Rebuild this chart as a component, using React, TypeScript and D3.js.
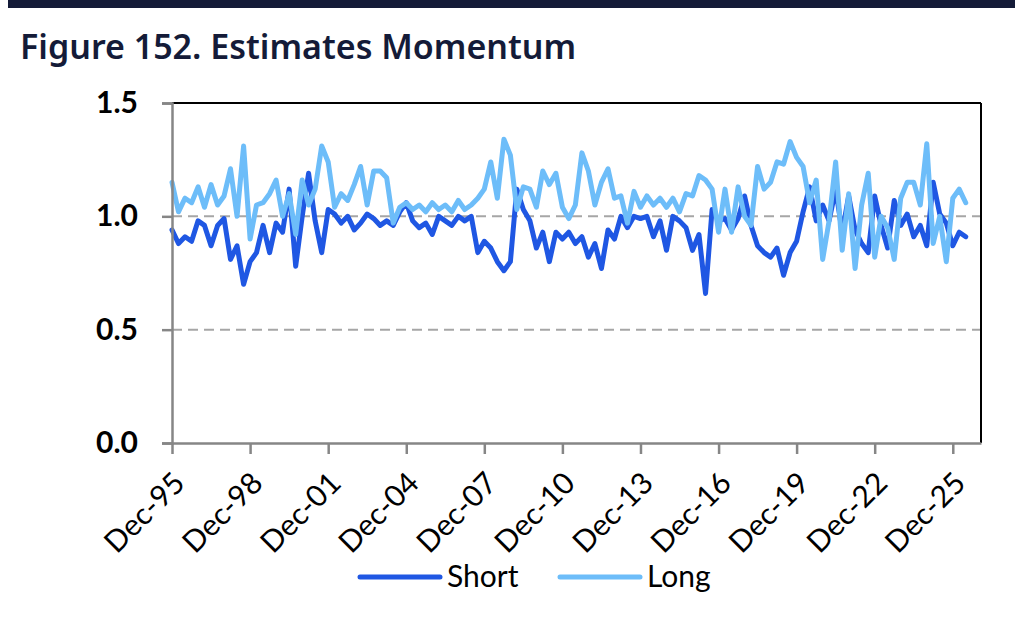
import * as d3 from 'd3';
import React, { useEffect, useRef } from 'react';

// Quarterly readings, first point Dec-95
const shortValues = [
  0.94, 0.88, 0.91, 0.89, 0.98, 0.96, 0.87, 0.96, 0.99, 0.81,
  0.87, 0.7, 0.8, 0.84, 0.96, 0.84, 0.97, 0.93, 1.12, 0.78,
  1.0, 1.19, 0.98, 0.84, 1.03, 1.01, 0.97, 1.0, 0.94, 0.97,
  1.01, 0.99, 0.96, 0.98, 0.96, 1.02, 1.06, 0.98, 0.95, 0.97,
  0.92, 1.0, 0.98, 0.96, 1.0, 0.98, 1.0, 0.84, 0.89, 0.86,
  0.8, 0.76, 0.8, 1.12, 1.03, 0.98, 0.86, 0.93, 0.8, 0.93,
  0.9, 0.93, 0.88, 0.91, 0.82, 0.88, 0.77, 0.94, 0.9, 1.0,
  0.95, 1.0, 0.99, 1.0, 0.91, 0.98, 0.85, 1.0, 0.98, 0.95,
  0.85, 0.92, 0.66, 1.03, 0.98, 0.99, 0.94, 0.99, 1.09, 0.96,
  0.87, 0.84, 0.82, 0.86, 0.74, 0.84, 0.89, 1.02, 1.13, 0.98,
  1.05, 0.98, 1.12, 0.93, 1.09, 0.94, 0.88, 0.84, 1.09, 0.96,
  0.86, 1.07, 0.96, 1.01, 0.91, 0.96, 0.87, 1.15, 1.01, 0.97,
  0.87, 0.93, 0.91
];

const longValues = [
  1.15, 1.02, 1.08, 1.06, 1.13, 1.04, 1.14, 1.05, 1.09, 1.21,
  1.0, 1.31, 0.9, 1.05, 1.06, 1.1, 1.16, 1.0, 1.1, 0.92,
  1.16, 1.05, 1.12, 1.31, 1.24, 1.04, 1.1, 1.07, 1.14, 1.22,
  1.05, 1.2, 1.2, 1.17, 0.97, 1.04, 1.06, 1.03, 1.05, 1.02,
  1.06, 1.03, 1.05, 1.02, 1.07, 1.03, 1.05, 1.08, 1.12, 1.24,
  1.08, 1.34, 1.27, 1.03, 1.13, 1.12, 1.04, 1.2, 1.14, 1.19,
  1.04, 0.99, 1.05, 1.28, 1.2, 1.05, 1.15, 1.21, 1.08, 1.09,
  0.97, 1.11, 1.04, 1.09, 1.05, 1.08, 1.04, 1.08, 1.02, 1.1,
  1.09, 1.18, 1.16, 1.12, 0.93, 1.12, 0.93, 1.13, 1.0, 0.96,
  1.22, 1.12, 1.15, 1.24, 1.23, 1.33, 1.26, 1.22, 1.06, 1.16,
  0.81, 0.98, 1.24, 0.85, 1.1, 0.77, 1.05, 1.19, 0.82, 1.0,
  0.95, 0.81, 1.08, 1.15, 1.15, 1.05, 1.32, 0.88, 1.0, 0.8,
  1.08, 1.12, 1.06
];

const tickYears = [1995, 1998, 2001, 2004, 2007, 2010, 2013, 2016, 2019, 2022, 2025];
const yTicks = [0, 0.5, 1.0, 1.5];
const gridValues = [0.5, 1.0];
const seriesNames = ['Short', 'Long'];
const seriesColors = ['#1f57e3', '#6dbdf9'];

const width = 1015;
const height = 628;
const margin = { top: 103, right: 34, bottom: 185, left: 172 };

export default function App() {
  const svgRef = useRef<SVGSVGElement>(null);

  useEffect(() => {
    const svg = d3.select(svgRef.current);
    svg.selectAll('*').remove();

    const startDate = new Date(1995, 11, 1);
    const dates = shortValues.map((_, i) => d3.timeMonth.offset(startDate, i * 3));

    const x = d3
      .scaleTime()
      .domain([startDate, new Date(2027, 0, 1)])
      .range([margin.left, width - margin.right]);
    const y = d3
      .scaleLinear()
      .domain([0, 1.5])
      .range([height - margin.bottom, margin.top]);

    // header bar + title
    svg.append('rect').attr('x', 8).attr('y', 0).attr('width', width - 8).attr('height', 8).attr('fill', '#141b38');
    svg
      .append('text')
      .attr('x', 20)
      .attr('y', 59)
      .attr('fill', '#141b38')
      .style('font-family', '"Noto Sans", sans-serif')
      .style('font-weight', 600)
      .style('font-size', '34px')
      .text('Figure 152. Estimates Momentum');

    // dashed gridlines
    svg
      .append('g')
      .selectAll('line')
      .data(gridValues)
      .join('line')
      .attr('x1', margin.left)
      .attr('x2', width - margin.right)
      .attr('y1', (d) => y(d))
      .attr('y2', (d) => y(d))
      .attr('stroke', '#a6a6a6')
      .attr('stroke-width', 2)
      .attr('stroke-dasharray', '10 6');

    // series lines
    const line = d3
      .line<number>()
      .x((_d, i) => x(dates[i]))
      .y((d) => y(d))
      .curve(d3.curveLinear);

    [shortValues, longValues].forEach((vals, k) => {
      svg
        .append('path')
        .datum(vals)
        .attr('d', line)
        .attr('fill', 'none')
        .attr('stroke', seriesColors[k])
        .attr('stroke-width', 5)
        .attr('stroke-linejoin', 'round')
        .attr('stroke-linecap', 'round');
    });

    // frame: black top/right, gray left/bottom axes
    const x0 = margin.left;
    const x1 = width - margin.right;
    const y0 = height - margin.bottom;
    const y1 = margin.top;
    svg.append('line').attr('x1', x0).attr('x2', x1).attr('y1', y1).attr('y2', y1).attr('stroke', '#000').attr('stroke-width', 2);
    svg.append('line').attr('x1', x1).attr('x2', x1).attr('y1', y1).attr('y2', y0).attr('stroke', '#000').attr('stroke-width', 2);

    // y axis
    const yAxis = d3
      .axisLeft(y)
      .tickValues(yTicks)
      .tickSize(10)
      .tickPadding(24)
      .tickFormat((d) => d3.format('.1f')(d as number));
    const gy = svg.append('g').attr('transform', `translate(${x0},0)`).call(yAxis);
    gy.select('.domain').attr('stroke', '#868686').attr('stroke-width', 2.5);
    gy.selectAll('.tick line').attr('stroke', '#868686').attr('stroke-width', 2.5);
    gy.selectAll('text')
      .attr('fill', '#000')
      .style('font-family', 'Lato, sans-serif')
      .style('font-weight', 700)
      .style('font-size', '30px');

    // x axis
    const xAxis = d3
      .axisBottom(x)
      .tickValues(tickYears.map((yr) => new Date(yr, 11, 1)))
      .tickSize(11)
      .tickSizeOuter(0)
      .tickFormat((d) => d3.timeFormat('Dec-%y')(d as Date));
    const gx = svg.append('g').attr('transform', `translate(0,${y0})`).call(xAxis);
    gx.select('.domain').attr('stroke', '#868686').attr('stroke-width', 2.5);
    gx.selectAll('.tick line').attr('stroke', '#868686').attr('stroke-width', 2.5);
    gx.selectAll('text')
      .attr('fill', '#000')
      .attr('y', 0)
      .attr('dy', 0)
      .attr('text-anchor', 'end')
      .attr('transform', 'translate(14,42) rotate(-45)')
      .style('font-family', 'Lato, sans-serif')
      .style('font-size', '30px');

    // legend
    const legend = svg.append('g');
    const legendX = [360, 560];
    seriesNames.forEach((name, k) => {
      legend
        .append('line')
        .attr('x1', legendX[k])
        .attr('x2', legendX[k] + 80)
        .attr('y1', 577)
        .attr('y2', 577)
        .attr('stroke', seriesColors[k])
        .attr('stroke-width', 5)
        .attr('stroke-linecap', 'round');
      legend
        .append('text')
        .attr('x', legendX[k] + 87)
        .attr('y', 587)
        .attr('fill', '#000')
        .style('font-family', 'Lato, sans-serif')
        .style('font-size', '30px')
        .text(name);
    });
  }, []);

  return (
    <svg
      ref={svgRef}
      width={width}
      height={height}
      style={{ position: 'absolute', left: 0, top: 0, background: '#fff' }}
    />
  );
}
